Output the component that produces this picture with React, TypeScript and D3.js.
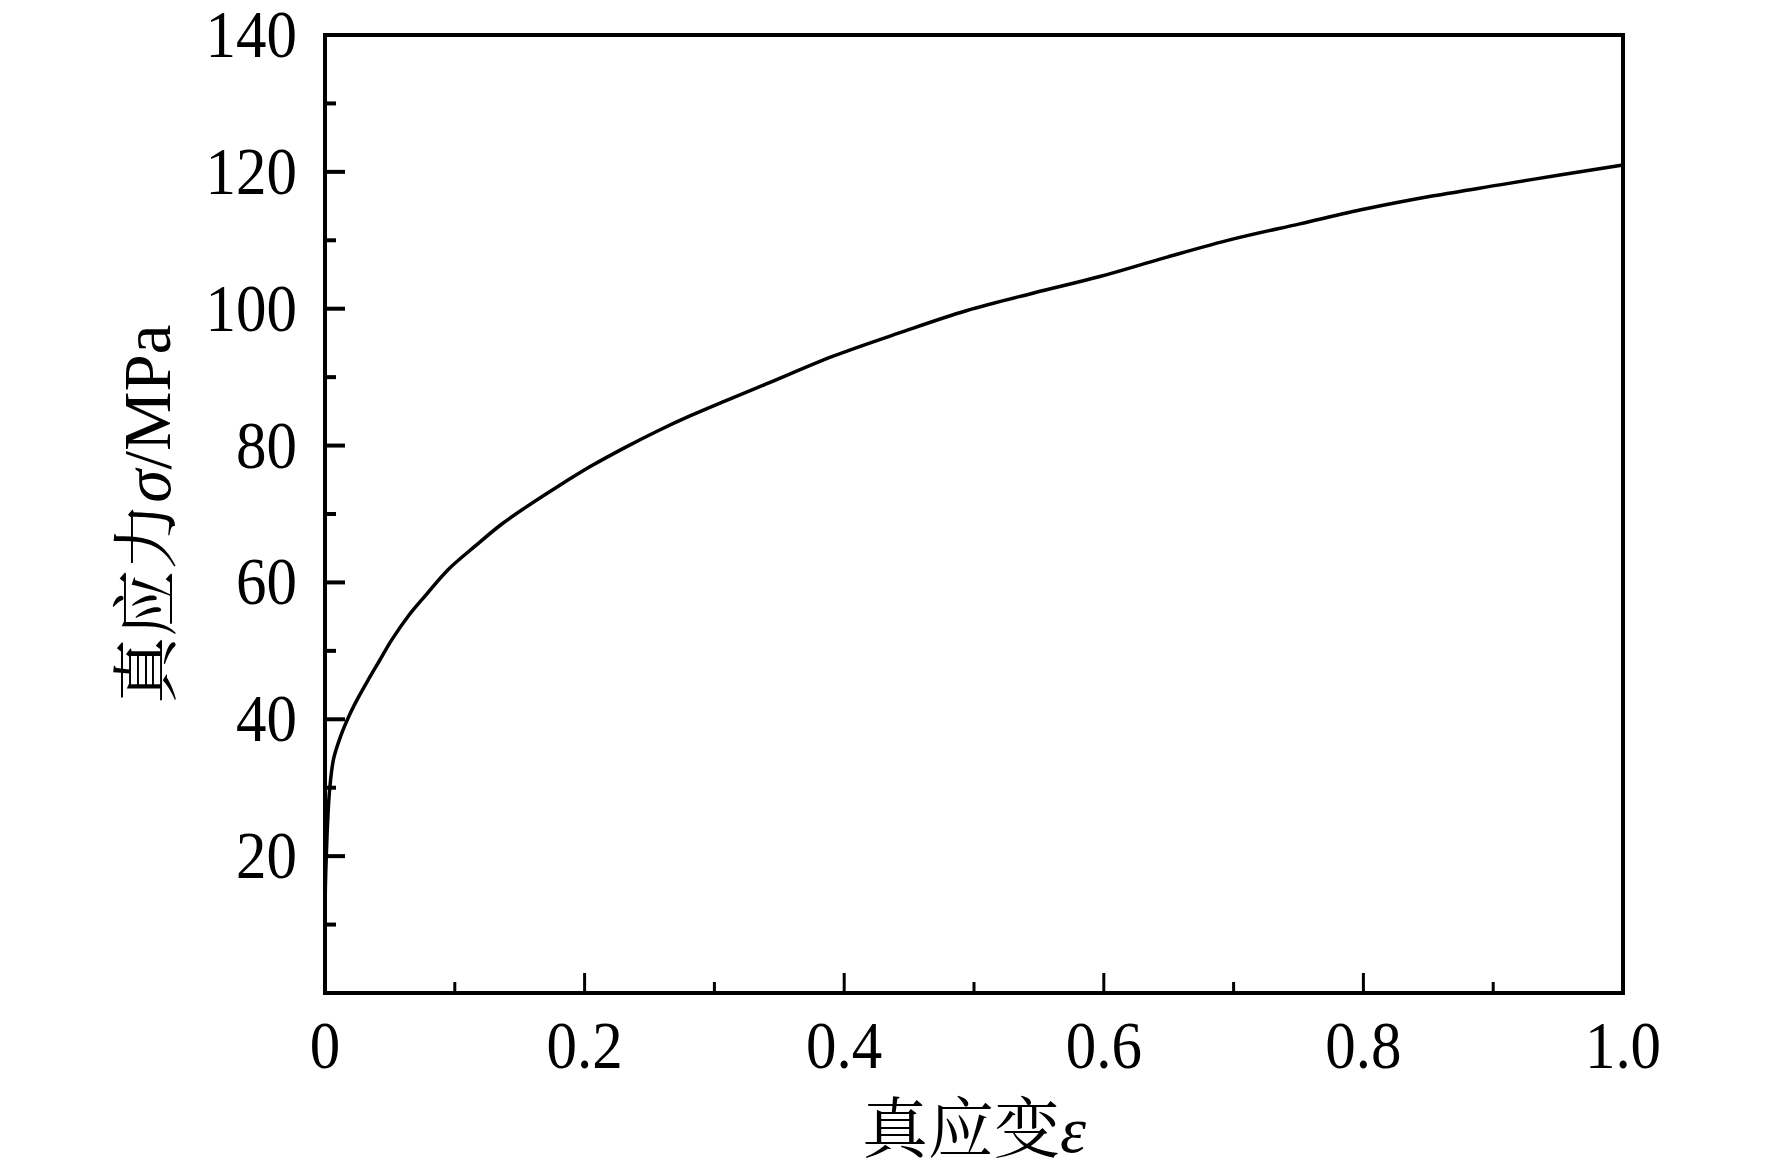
import React, { useEffect } from 'react';
import * as d3 from 'd3';

// 真应变-真应力曲线 (读图估计值)
const strain = [
  0, 0.0003, 0.001, 0.002, 0.0036, 0.0066, 0.0118, 0.0193, 0.0257, 0.0334, 0.0424, 0.0514, 0.0642, 0.077,
  0.095, 0.1156, 0.136, 0.154, 0.18, 0.205, 0.231, 0.257, 0.282, 0.308, 0.34, 0.392, 0.443, 0.494, 0.546,
  0.597, 0.648, 0.7, 0.751, 0.802, 0.854, 0.905, 0.95, 1.0,
];
const stress = [
  10.8, 15.6, 20.0, 24.9, 29.8, 34.2, 37.4, 40.8, 43.2, 45.8, 48.7, 51.6, 55.1, 58.0, 61.9, 65.3, 68.5, 70.9,
  74.1, 77.0, 79.7, 82.2, 84.4, 86.5, 89.0, 93.1, 96.5, 99.7, 102.3, 104.7, 107.5, 110.2, 112.4, 114.6, 116.5,
  118.1, 119.5, 121.0,
];

const xMajor = [0, 0.2, 0.4, 0.6, 0.8, 1.0];
const xLabels = ['0', '0.2', '0.4', '0.6', '0.8', '1.0'];
const xMinor = [0.1, 0.3, 0.5, 0.7, 0.9];
const yMajor = [20, 40, 60, 80, 100, 120, 140];
const yLabels = ['20', '40', '60', '80', '100', '120', '140'];
const yMinor = [10, 30, 50, 70, 90, 110, 130];

const W = 1772;
const H = 1173;
const margin = { left: 325, right: 149, top: 35, bottom: 180 };

const serif = '"Liberation Serif", "Times New Roman", serif';
const cjk = '"Noto Serif CJK SC", "Noto Sans CJK SC", serif';

const App: React.FC = () => {
  useEffect(() => {
    document.body.style.margin = '0';
  }, []);

  const x = d3.scaleLinear().domain([0, 1]).range([margin.left, W - margin.right]);
  const y = d3.scaleLinear().domain([0, 140]).range([H - margin.bottom, margin.top]);

  const points: [number, number][] = strain.map((s, i) => [s, stress[i]]);
  const line = d3
    .line<[number, number]>()
    .x((d) => x(d[0]))
    .y((d) => y(d[1]))
    .curve(d3.curveCatmullRom.alpha(0.5));

  const x0 = x(0);
  const y0 = y(0);
  const majorLen = 20;
  const minorLen = 11;

  return (
    <svg width={W} height={H} style={{ display: 'block', background: '#fff' }}>
      {/* 曲线 */}
      <path d={line(points)!} fill="none" stroke="#000" strokeWidth={3.5} strokeLinejoin="round" />

      {/* 边框 */}
      <rect
        x={x0}
        y={y(140)}
        width={x(1) - x0}
        height={y0 - y(140)}
        fill="none"
        stroke="#000"
        strokeWidth={4}
      />

      {/* y轴刻度 */}
      {yMajor.map((v) => (
        <line key={'ym' + v} x1={x0} x2={x0 + majorLen} y1={y(v)} y2={y(v)} stroke="#000" strokeWidth={4} />
      ))}
      {yMinor.map((v) => (
        <line key={'yn' + v} x1={x0} x2={x0 + minorLen} y1={y(v)} y2={y(v)} stroke="#000" strokeWidth={4} />
      ))}
      {yMajor.map((v, i) => (
        <text
          key={'yl' + v}
          transform={`translate(${x0 - 28},${y(v) + 22}) scale(1,1.12)`}
          textAnchor="end"
          fontFamily={serif}
          fontSize={61}
          fill="#000"
        >
          {yLabels[i]}
        </text>
      ))}

      {/* x轴刻度 */}
      {xMajor.map((v) => (
        <line key={'xm' + v} x1={x(v)} x2={x(v)} y1={y0} y2={y0 - majorLen} stroke="#000" strokeWidth={3} />
      ))}
      {xMinor.map((v) => (
        <line key={'xn' + v} x1={x(v)} x2={x(v)} y1={y0} y2={y0 - minorLen} stroke="#000" strokeWidth={3} />
      ))}
      {xMajor.map((v, i) => (
        <text
          key={'xl' + v}
          transform={`translate(${x(v)},${y0 + 75}) scale(1,1.12)`}
          textAnchor="middle"
          fontFamily={serif}
          fontSize={61}
          fill="#000"
        >
          {xLabels[i]}
        </text>
      ))}

      {/* 轴标题 */}
      <text
        x={(x0 + x(1)) / 2}
        y={1152}
        textAnchor="middle"
        fontFamily={cjk}
        fontSize={66}
        fill="#000"
      >
        真应变
        <tspan fontFamily={serif} fontStyle="italic">
          ε
        </tspan>
      </text>
      <text
        transform={`translate(170,${(y(140) + y0) / 2}) rotate(-90)`}
        textAnchor="middle"
        fontFamily={cjk}
        fontSize={67}
        fill="#000"
      >
        真应力
        <tspan fontFamily={serif} fontStyle="italic">
          σ
        </tspan>
        <tspan fontFamily={serif}>/MPa</tspan>
      </text>
    </svg>
  );
};

export default App;
